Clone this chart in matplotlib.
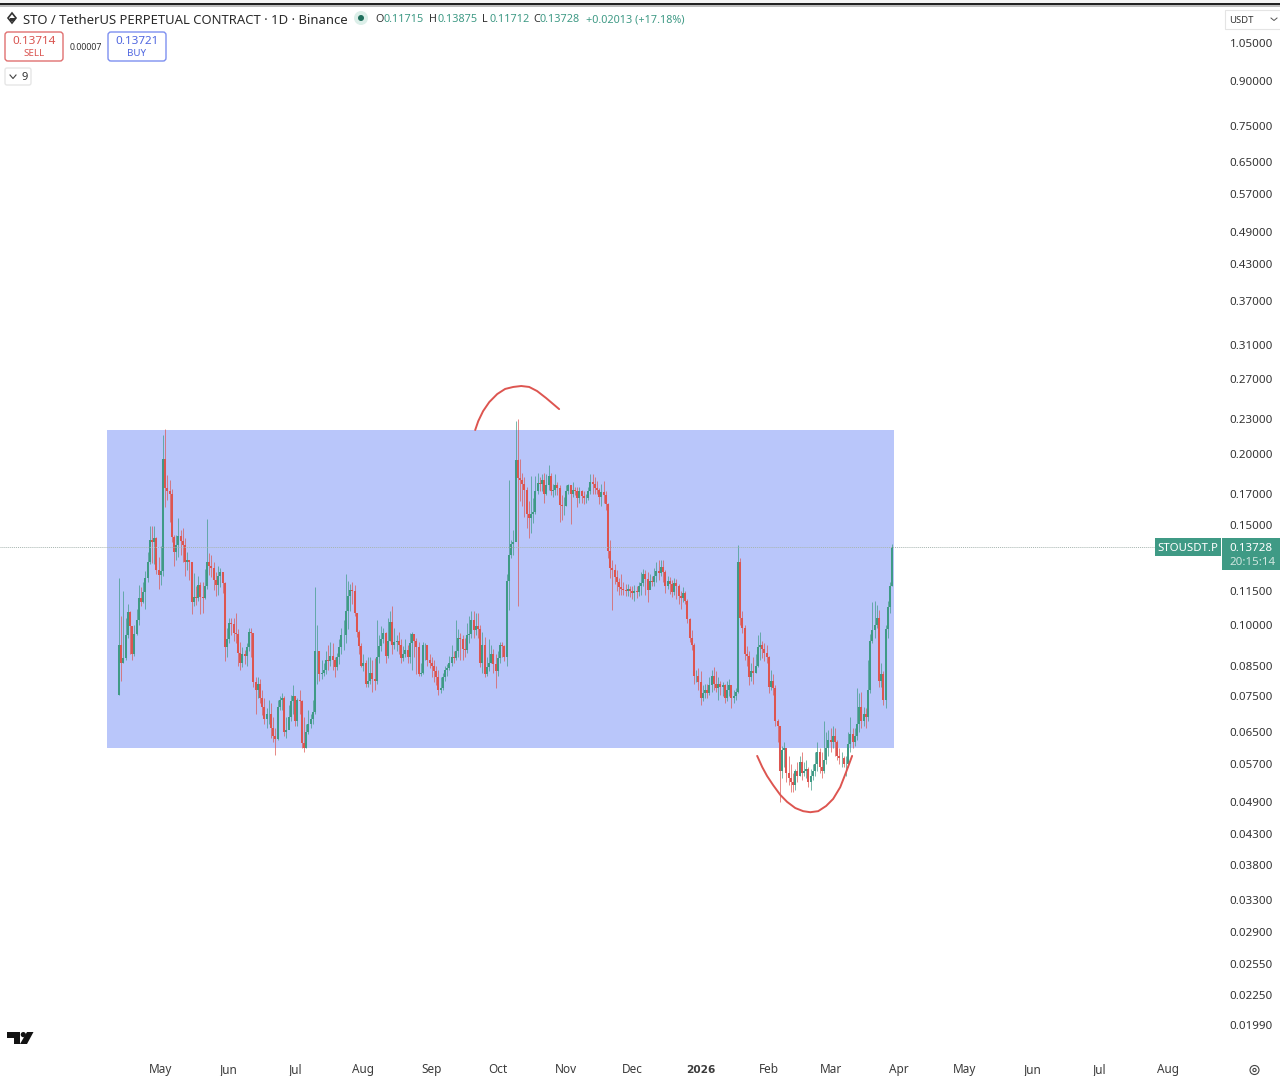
import matplotlib
matplotlib.use("Agg")
import matplotlib.pyplot as plt
from matplotlib.patches import FancyBboxPatch, Polygon, Circle, Rectangle
from matplotlib.ticker import NullLocator

plt.rcParams['font.family'] = ['Noto Sans', 'DejaVu Sans']

first_open = 0.0755
closes = [
 .0925,.0860,.0875,.0960,.1055,.0995,.0890,.0965,.1020,.1115,
 .1100,.1145,.1210,.1290,.1410,.1400,.1420,.1250,.1225,.1245,
 .1960,.1740,.1720,.1700,.1430,.1345,.1385,.1435,.1405,.1385,
 .1290,.1300,.1290,.1100,.1120,.1115,.1175,.1120,.1115,.1170,
 .1290,.1270,.1260,.1200,.1175,.1220,.1240,.1185,.0915,.0945,
 .1010,.1005,.0970,.0965,.0895,.0860,.0890,.0885,.0915,.0975,
 .0970,.0795,.0770,.0790,.0745,.0720,.0685,.0700,.0700,.0660,
 .0640,.0632,.0720,.0740,.0745,.0650,.0655,.0690,.0735,.0750,
 .0680,.0740,.0735,.0622,.0610,.0650,.0670,.0685,.0705,.0900,
 .0900,.0820,.0825,.0835,.0870,.0865,.0885,.0870,.0845,.0880,
 .0915,.0960,.0960,.1060,.1125,.1155,.1150,.1050,.0975,.0920,
 .0850,.0860,.0790,.0800,.0825,.0805,.0800,.0880,.0920,.0945,
 .0970,.0885,.0940,.1015,.0925,.0935,.0940,.0925,.0875,.0890,
 .0905,.0880,.0930,.0965,.0940,.0915,.0820,.0825,.0925,.0925,
 .0870,.0860,.0850,.0830,.0810,.0770,.0775,.0810,.0835,.0840,
 .0860,.0880,.0875,.0900,.0950,.0945,.0910,.0905,.0960,.0965,
 .1020,.0980,.0995,.0985,.0860,.0925,.0820,.0845,.0860,.0890,
 .0855,.0830,.0875,.0925,.0920,.0880,.1195,.1330,.1390,.1400,
 .1950,.1810,.1800,.1770,.1730,.1570,.1545,.1570,.1580,.1720,
 .1775,.1770,.1800,.1700,.1760,.1825,.1720,.1725,.1760,.1740,
 .1625,.1620,.1620,.1720,.1760,.1700,.1730,.1720,.1670,.1720,
 .1685,.1670,.1675,.1720,.1780,.1770,.1740,.1730,.1680,.1710,
 .1690,.1630,.1350,.1260,.1250,.1215,.1190,.1165,.1160,.1155,
 .1150,.1160,.1150,.1140,.1150,.1145,.1170,.1185,.1230,.1205,
 .1155,.1195,.1190,.1220,.1245,.1235,.1265,.1240,.1170,.1195,
 .1180,.1145,.1185,.1170,.1125,.1115,.1140,.1105,.1025,.0950,
 .0925,.0815,.0815,.0795,.0745,.0760,.0770,.0760,.0785,.0815,
 .0790,.0775,.0790,.0780,.0785,.0745,.0770,.0785,.0745,.0750,
 .0765,.1290,.1030,.0990,.0890,.0885,.0810,.0830,.0825,.0850,
 .0915,.0925,.0910,.0895,.0880,.0780,.0800,.0775,.0680,.0665,
 .0555,.0605,.0610,.0550,.0540,.0530,.0525,.0555,.0545,.0575,
 .0550,.0555,.0560,.0530,.0545,.0555,.0570,.0600,.0565,.0555,
 .0580,.0610,.0630,.0625,.0640,.0625,.0590,.0585,.0585,.0570,
 .0570,.0620,.0645,.0625,.0640,.0670,.0720,.0680,.0700,.0690,
 .0770,.0940,.0980,.1000,.1030,.0800,.0820,.0740,.0985,.1075,
 .1171,.13728]
highs = [
 .1210,.1040,.1150,.1030,.1090,.1060,.0995,.1000,.1070,.1175,
 .1165,.1190,.1245,.1345,.1495,.1495,.1495,.1430,.1320,.1375,
 .2160,.2210,.1835,.1800,.1735,.1440,.1440,.1540,.1470,.1480,
 .1425,.1345,.1300,.1260,.1235,.1170,.1220,.1190,.1190,.1255,
 .1535,.1340,.1330,.1290,.1240,.1270,.1260,.1240,.1190,.0990,
 .1030,.1030,.1030,.1050,.0985,.0935,.0915,.0905,.0930,.0990,
 .0990,.0900,.0810,.0810,.0805,.0770,.0745,.0715,.0740,.0730,
 .0690,.0660,.0740,.0750,.0760,.0750,.0690,.0725,.0755,.0785,
 .0745,.0745,.0770,.0740,.0690,.0670,.0710,.0700,.0740,.1165,
 .1000,.0900,.0870,.0860,.0900,.0925,.0935,.0930,.0880,.0895,
 .0945,.0990,.1020,.1230,.1195,.1180,.1190,.1175,.1050,.0980,
 .0930,.0890,.0870,.0880,.0880,.0870,.0875,.1020,.0960,.0995,
 .0990,.0975,.1030,.1060,.1080,.0990,.0960,.0975,.0945,.0920,
 .0945,.0925,.0970,.0975,.0965,.0950,.0935,.0860,.0935,.0930,
 .0900,.0890,.0880,.0870,.0850,.0835,.0810,.0825,.0850,.0855,
 .0885,.0925,.0900,.1020,.0985,.0970,.0960,.0950,.1010,.1040,
 .1060,.1060,.1050,.1050,.1000,.0975,.0955,.0880,.0945,.0925,
 .0910,.0890,.0900,.0935,.0935,.0925,.1230,.1795,.1410,.1470,
 .2285,.2300,.1960,.1850,.1820,.1750,.1650,.1830,.1670,.1830,
 .1850,.1820,.1840,.1850,.1840,.1910,.1850,.1770,.1840,.1780,
 .1760,.1690,.1680,.1760,.1770,.1760,.1780,.1750,.1750,.1745,
 .1730,.1720,.1700,.1745,.1840,.1840,.1820,.1790,.1740,.1770,
 .1790,.1720,.1640,.1410,.1300,.1280,.1250,.1210,.1230,.1190,
 .1180,.1180,.1170,.1170,.1175,.1170,.1190,.1240,.1255,.1250,
 .1240,.1230,.1220,.1260,.1290,.1300,.1300,.1300,.1250,.1220,
 .1215,.1200,.1210,.1205,.1180,.1150,.1165,.1150,.1110,.1030,
 .0980,.0930,.0835,.0840,.0830,.0785,.0790,.0790,.0810,.0835,
 .0845,.0830,.0810,.0800,.0795,.0790,.0800,.0805,.0785,.0770,
 .0775,.1385,.1310,.1060,.1000,.0920,.0900,.0860,.0880,.0890,
 .0960,.0975,.0940,.0930,.0925,.0885,.0835,.0820,.0785,.0685,
 .0665,.0615,.0625,.0610,.0590,.0570,.0550,.0560,.0575,.0590,
 .0600,.0575,.0580,.0565,.0560,.0570,.0600,.0625,.0610,.0600,
 .0680,.0650,.0655,.0660,.0665,.0660,.0630,.0610,.0600,.0590,
 .0590,.0650,.0690,.0660,.0660,.0775,.0760,.0765,.0720,.0715,
 .0870,.0965,.1100,.1105,.1085,.1065,.0860,.0830,.1000,.1105,
 .1190,.13875]
lows = [
 .0755,.0800,.0860,.0870,.0950,.0890,.0870,.0885,.0960,.1000,
 .1080,.1095,.1070,.1190,.1280,.1285,.1280,.1230,.1160,.1175,
 .1220,.1615,.1660,.1520,.1400,.1270,.1300,.1320,.1330,.1290,
 .1220,.1250,.1200,.1045,.1080,.1085,.1105,.1045,.1050,.1110,
 .1160,.1225,.1215,.1155,.1125,.1130,.1165,.1140,.0865,.0880,
 .0930,.0960,.0940,.0930,.0850,.0835,.0845,.0855,.0850,.0900,
 .0880,.0780,.0700,.0745,.0730,.0695,.0670,.0660,.0670,.0635,
 .0625,.0592,.0630,.0710,.0710,.0640,.0635,.0660,.0680,.0700,
 .0665,.0665,.0700,.0610,.0600,.0610,.0645,.0660,.0670,.0700,
 .0790,.0800,.0805,.0815,.0820,.0835,.0850,.0835,.0810,.0835,
 .0855,.0890,.0905,.0930,.0985,.1060,.1090,.1040,.0955,.0890,
 .0845,.0830,.0780,.0780,.0790,.0765,.0770,.0790,.0860,.0900,
 .0930,.0860,.0875,.0940,.0890,.0910,.0900,.0890,.0860,.0865,
 .0880,.0860,.0860,.0835,.0880,.0820,.0815,.0815,.0820,.0870,
 .0850,.0840,.0810,.0795,.0785,.0755,.0760,.0770,.0800,.0815,
 .0835,.0850,.0860,.0870,.0880,.0870,.0870,.0880,.0895,.0930,
 .0950,.0950,.0960,.0950,.0845,.0825,.0810,.0815,.0830,.0860,
 .0825,.0775,.0815,.0860,.0880,.0865,.0850,.1065,.1310,.1330,
 .1640,.1080,.1650,.1620,.1550,.1480,.1420,.1450,.1510,.1570,
 .1700,.1720,.1720,.1640,.1690,.1730,.1690,.1680,.1690,.1690,
 .1520,.1530,.1560,.1620,.1700,.1505,.1680,.1690,.1610,.1640,
 .1640,.1635,.1640,.1660,.1700,.1700,.1700,.1700,.1630,.1620,
 .1640,.1590,.1310,.1210,.1065,.1180,.1150,.1130,.1130,.1130,
 .1125,.1125,.1120,.1110,.1105,.1115,.1125,.1130,.1170,.1130,
 .1100,.1170,.1170,.1170,.1190,.1200,.1220,.1190,.1140,.1160,
 .1135,.1120,.1130,.1110,.1090,.1070,.1100,.1090,.1010,.0935,
 .0905,.0790,.0795,.0770,.0725,.0735,.0745,.0745,.0755,.0765,
 .0770,.0765,.0740,.0755,.0750,.0730,.0735,.0750,.0715,.0730,
 .0740,.0760,.1000,.0970,.0870,.0850,.0785,.0800,.0790,.0825,
 .0845,.0870,.0875,.0865,.0860,.0760,.0770,.0755,.0665,.0625,
 .0490,.0540,.0565,.0530,.0525,.0510,.0510,.0515,.0530,.0545,
 .0535,.0545,.0540,.0520,.0515,.0535,.0545,.0555,.0550,.0540,
 .0550,.0570,.0590,.0600,.0610,.0590,.0580,.0570,.0565,.0565,
 .0545,.0565,.0600,.0610,.0615,.0630,.0650,.0660,.0665,.0660,
 .0680,.0760,.0930,.0950,.0990,.0780,.0780,.0725,.0715,.0950,
 .1050,.11712]

x_tick_pos = [19, 50, 80, 111, 142, 172, 203, 233, 264, 295, 323, 354, 384, 415, 445, 476]
x_tick_lab = ['May', 'Jun', 'Jul', 'Aug', 'Sep', 'Oct', 'Nov', 'Dec', '2026', 'Feb', 'Mar', 'Apr', 'May', 'Jun', 'Jul', 'Aug']
y_ticks = [1.05, .90, .75, .65, .57, .49, .43, .37, .31, .27, .23, .20, .17, .15, .115, .10,
           .085, .075, .065, .057, .049, .043, .038, .033, .029, .0255, .0225, .0199]

box_days = (-5.6, 351.8)
box_prices = (.0609, .2200)
arc_top_x = [161.7, 163.1, 165.3, 168.1, 171.7, 175.3, 179.0, 182.6, 186.2, 189.8, 193.9, 199.8]
arc_top_y = [.2200, .2281, .2375, .2463, .2544, .2597, .2618, .2628, .2618, .2575, .2503, .2394]
arc_low_x = [289.7, 292.0, 294.2, 297.0, 300.2, 303.3, 307.0, 310.6, 313.8, 317.4, 321.0, 324.2, 327.4, 330.1, 332.8]
arc_low_y = [.0590, .0564, .0544, .0524, .0504, .0490, .0478, .0472, .0470, .0472, .0482, .0496, .0520, .0553, .0590]

GREEN = '#3f9a85'
RED = '#dd5550'
W, H = 1280, 1076

fig = plt.figure(figsize=(W / 100, H / 100), dpi=100, facecolor='white')
ax = fig.add_axes([0, (H - 1056) / H, 1222 / W, (1056 - 6) / H])
ax.set_yscale('log')
ax.set_xlim(-54.0, 500.7)
ax.set_ylim(.01756, 1.2193)
for s in ax.spines.values():
    s.set_visible(False)

ax.add_patch(Rectangle((box_days[0], box_prices[0]), box_days[1] - box_days[0],
                       box_prices[1] - box_prices[0], facecolor='#b9c6fa', edgecolor='none', zorder=1))

opens = [first_open] + closes[:-1]
days = list(range(len(closes)))
cols = [GREEN if c >= o else RED for o, c in zip(opens, closes)]
ax.vlines(days, lows, highs, colors=cols, linewidth=0.65, alpha=0.75, zorder=2)
ax.vlines(days, [min(a, b) for a, b in zip(opens, closes)], [max(a, b) for a, b in zip(opens, closes)],
          colors=cols, linewidth=1.45, zorder=3)

ax.hlines(closes[-1], -54.0, 470.3, colors='#a7b5b0', linewidth=0.7, linestyles=(0, (1, 1)), zorder=4)
for ax_x, ax_y in ((arc_top_x, arc_top_y), (arc_low_x, arc_low_y)):
    ax.plot(ax_x, ax_y, color=RED, linewidth=1.4, solid_joinstyle='round', solid_capstyle='round', zorder=5)

ax.set_xticks(x_tick_pos, x_tick_lab)
ax.xaxis.set_minor_locator(NullLocator())
ax.tick_params(axis='x', length=0, pad=12, labelsize=8.5, labelcolor='#3c3c3c')
for lab, txt in zip(ax.get_xticklabels(), x_tick_lab):
    lab.set_verticalalignment('baseline')
    if txt == '2026':
        lab.set_fontfamily('DejaVu Sans')
        lab.set_fontweight('bold')
        lab.set_fontsize(7.6)
ax.yaxis.tick_right()
ax.set_yticks(y_ticks, ['%.5f' % v for v in y_ticks])
ax.yaxis.set_minor_locator(NullLocator())
ax.tick_params(axis='y', length=0, pad=5.5, labelsize=8.3, labelcolor='#333333')

ui = fig.add_axes([0, 0, 1, 1], facecolor='none')
ui.set_xlim(0, W)
ui.set_ylim(H, 0)
ui.axis('off')

ui.add_patch(Rectangle((0, 0), W, 3, facecolor='#f4f4f4', edgecolor='none'))
ui.add_patch(Rectangle((0, 3), W, 2.2, facecolor='#222222', edgecolor='none'))
ui.add_patch(Rectangle((0, 5.2), W, 1.8, facecolor='#bdbdbd', edgecolor='none'))

def t(x, y, s, size=8, color='#333333', ha='left', **kw):
    ui.text(x, y + 2, s, fontsize=size, color=color, ha=ha, va='center', **kw)

ui.add_patch(Polygon([(12, 13), (16, 18), (12, 23), (8, 18)], closed=True, facecolor='white', edgecolor='#333333', linewidth=1.2))
ui.add_patch(Rectangle((9.5, 18), 5, 3, facecolor='#333333', edgecolor='none'))
t(23, 18.0, 'STO / TetherUS PERPETUAL CONTRACT · 1D · Binance', size=9.42, color='#2a2a2a')
ui.add_patch(Circle((361, 18), 7, facecolor='#dcefe9', edgecolor='none'))
ui.add_patch(Circle((361, 18), 3, facecolor='#1f6f5c', edgecolor='none'))
for x, s, c in [(375, 'O', '#333333'), (383, '0.11715', GREEN), (429, 'H', '#333333'), (437, '0.13875', GREEN),
                (482, 'L', '#333333'), (490, '0.11712', GREEN), (533, 'C', '#333333'), (540, '0.13728', GREEN),
                (586, '+0.02013 (+17.18%)', GREEN)]:
    t(x, 17.5, s, size=7.8, color=c)

ui.add_patch(FancyBboxPatch((5, 32), 58, 29, boxstyle='round,pad=0,rounding_size=3', facecolor='white', edgecolor='#e07070', linewidth=1))
ui.add_patch(FancyBboxPatch((108, 32), 58, 29, boxstyle='round,pad=0,rounding_size=3', facecolor='white', edgecolor='#7d8ff0', linewidth=1))
t(34, 40, '0.13714', size=8.4, color='#d9534f', ha='center')
t(34, 51, 'SELL', size=7, color='#d9534f', ha='center')
t(137, 40, '0.13721', size=8.4, color='#4f66e0', ha='center')
t(137, 51, 'BUY', size=7, color='#4f66e0', ha='center')
t(85.5, 45, '0.00007', size=6.4, color='#333333', ha='center')
ui.add_patch(FancyBboxPatch((5, 68), 26, 17, boxstyle='round,pad=0,rounding_size=2', facecolor='white', edgecolor='#e6e6e6', linewidth=1))
ui.plot([10, 13, 16], [75, 78.5, 75], color='#444444', linewidth=0.8)
t(22, 75, '9', size=8, color='#333333')

ui.add_patch(Rectangle((1225, 10), 56, 19, facecolor='white', edgecolor='#e4e4e4', linewidth=0.8))
t(1229, 18.5, 'USDT', size=6.8, color='#333333')
ui.plot([1271, 1274, 1277], [18, 20.5, 18], color='#555555', linewidth=0.7)

ui.add_patch(Rectangle((1155, 538), 66, 18, facecolor=GREEN, edgecolor='none'))
ui.add_patch(Rectangle((1222, 538), 58, 32, facecolor=GREEN, edgecolor='none'))
t(1188, 546.5, 'STOUSDT.P', size=8.2, color='white', ha='center')
t(1251, 546.5, '0.13728', size=8.3, color='white', ha='center')
t(1253, 560.5, '20:15:14', size=8.3, color='#cfe6df', ha='center')

ui.add_patch(Polygon([(7, 1032), (20, 1032), (20, 1044), (13.5, 1044), (13.5, 1037.5), (7, 1037.5)], closed=True, facecolor='#131313', edgecolor='none'))
ui.add_patch(Circle((23.3, 1034.6), 2.6, facecolor='#131313', edgecolor='none'))
ui.add_patch(Polygon([(27, 1032), (33.5, 1032), (27, 1044), (20, 1044)], closed=True, facecolor='#131313', edgecolor='none'))
ui.add_patch(Circle((1254.5, 1070), 4.5, facecolor='white', edgecolor='#444444', linewidth=0.8))
ui.add_patch(Circle((1254.5, 1070), 1.6, facecolor='white', edgecolor='#444444', linewidth=0.8))

fig.savefig('out.png', dpi=100, facecolor='white')
